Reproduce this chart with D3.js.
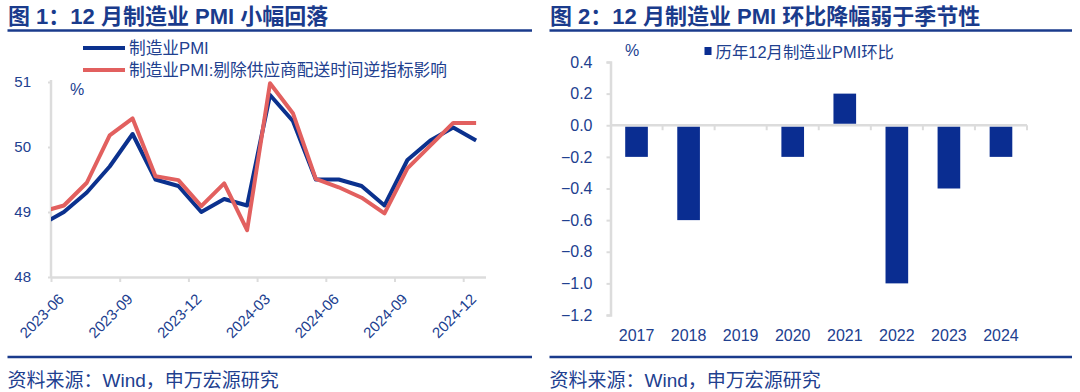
<!DOCTYPE html>
<html>
<head>
<meta charset="utf-8">
<script src="https://cdn.jsdelivr.net/npm/d3@7"></script>
<style>
  body { margin: 0; background: #fff; }
  svg text { font-family: "Liberation Sans", "Noto Sans CJK SC", sans-serif; }
</style>
</head>
<body>
<div id="wrapper"></div>
<script>

// 1. Data
const months = ["2023-05","2023-06","2023-07","2023-08","2023-09","2023-10","2023-11","2023-12",
    "2024-01","2024-02","2024-03","2024-04","2024-05","2024-06","2024-07","2024-08","2024-09","2024-10","2024-11","2024-12"]
const pmi = [48.8,49.0,49.3,49.7,50.2,49.5,49.4,49.0,49.2,49.1,50.8,50.4,49.5,49.5,49.4,49.1,49.8,50.1,50.3,50.1]
const pmiAdj = [49.0,49.1,49.45,50.18,50.44,49.55,49.49,49.09,49.44,48.72,50.98,50.52,49.51,49.38,49.22,48.98,49.67,50.02,50.37,50.37]
const monthTicks = ["2023-06","2023-09","2023-12","2024-03","2024-06","2024-09","2024-12"]
const pmiTicks = [48, 49, 50, 51]
const lineLabels = ["制造业PMI", "制造业PMI:剔除供应商配送时间逆指标影响"]

const years = ["2017","2018","2019","2020","2021","2022","2023","2024"]
const decChange = [-0.2,-0.6,0,-0.2,0.2,-1.0,-0.4,-0.2]
const changeTicks = [0.4,0.2,0.0,-0.2,-0.4,-0.6,-0.8,-1.0,-1.2]
const barLabel = "历年12月制造业PMI环比"

const titles = ["图 1：12 月制造业 PMI 小幅回落", "图 2：12 月制造业 PMI 环比降幅弱于季节性"]
const source = "资料来源：Wind，申万宏源研究"

// 2. Styles
const navy = "#1a3b8c"
const textColor = "#21408f"
const gridColor = "#dcdcdc"
const blue = "#0b318e"
const red = "#e2605f"
const barColor = "#0a2d91"

const svg = d3.select("#wrapper").append("svg")
    .attr("width", 1080)
    .attr("height", 392)

// title + frame lines for both panels
const panels = [{x0: 7.5, x1: 532}, {x0: 549.5, x1: 1072}]
panels.forEach((p, i) => {
    svg.append("text")
        .attr("x", p.x0 + 0.5)
        .attr("y", 23.5)
        .attr("fill", navy)
        .style("font-size", "22px")
        .style("font-weight", "bold")
        .text(titles[i])
    svg.append("line")
        .attr("x1", p.x0).attr("x2", p.x1)
        .attr("y1", 30.5).attr("y2", 30.5)
        .attr("stroke", navy).attr("stroke-width", 2.5)
    svg.append("line")
        .attr("x1", p.x0).attr("x2", p.x1)
        .attr("y1", 357).attr("y2", 357)
        .attr("stroke", navy).attr("stroke-width", 2.5)
    svg.append("text")
        .attr("x", p.x0)
        .attr("y", 387)
        .attr("fill", textColor)
        .style("font-size", "19px")
        .text(source)
})

// 3. Left chart: line chart
const xLine = d3.scaleLinear()
    .domain([0.437, 19.41])
    .range([51, 485.5])
const yLine = d3.scaleLinear()
    .domain([48, 51])
    .range([277, 82])
// tick labels sit about half a month before the month's data point
const tickPos = m => months.indexOf(m) - 0.563

const left = svg.append("g")

left.append("clipPath").attr("id", "clipLeft")
    .append("rect")
    .attr("x", xLine.range()[0]).attr("y", 0)
    .attr("width", xLine.range()[1] - xLine.range()[0]).attr("height", 392)

const yAxisL = left.append("g")
    .attr("transform", `translate(${xLine.range()[0]},0)`)
    .call(d3.axisLeft(yLine).tickValues(pmiTicks).tickSize(3).tickPadding(17).tickFormat(d3.format("d")))
const xAxisL = left.append("g")
    .attr("transform", `translate(0,${yLine(48)})`)
    .call(d3.axisBottom(xLine).tickValues(monthTicks.map(tickPos)).tickSize(5).tickSizeOuter(0).tickFormat(""))

;[yAxisL, xAxisL].forEach(a => {
    a.select(".domain").attr("stroke", gridColor).attr("stroke-width", 2.5)
    a.selectAll(".tick line").attr("stroke", gridColor).attr("stroke-width", 2)
})
yAxisL.selectAll(".tick text").attr("fill", textColor).style("font-size", "15px")
yAxisL.select(".domain").attr("d", `M0,${yLine(51) - 2}V${yLine(48)}`)

left.selectAll(".xlab")
    .data(monthTicks)
    .join("text")
    .attr("class", "xlab")
    .attr("transform", d => `translate(${xLine(tickPos(d)) + 14},300) rotate(-45)`)
    .attr("text-anchor", "end")
    .attr("fill", textColor)
    .style("font-size", "15px")
    .text(d => d)

left.append("text")
    .attr("x", 70).attr("y", 95)
    .attr("fill", textColor)
    .style("font-size", "16px")
    .text("%")

const line = d3.line()
    .x((d, i) => xLine(i))
    .y(d => yLine(d))

const series = [pmi, pmiAdj]
const colors = [blue, red]

left.append("g")
    .attr("clip-path", "url(#clipLeft)")
    .selectAll("path")
    .data(series)
    .join("path")
    .attr("d", d => line(d))
    .attr("fill", "none")
    .attr("stroke", (d, i) => colors[i])
    .attr("stroke-width", 4)
    .attr("stroke-linejoin", "round")

// legend
const legendL = left.append("g")
legendL.selectAll("line")
    .data(lineLabels)
    .join("line")
    .attr("x1", 83).attr("x2", 125)
    .attr("y1", (d, i) => 48 + i * 22).attr("y2", (d, i) => 48 + i * 22)
    .attr("stroke", (d, i) => colors[i])
    .attr("stroke-width", 4)
legendL.selectAll("text")
    .data(lineLabels)
    .join("text")
    .attr("x", 129)
    .attr("y", (d, i) => 54 + i * 22)
    .attr("fill", textColor)
    .style("font-size", "16.7px")
    .text(d => d)

// 4. Right chart: bar chart
const xBar = d3.scaleBand()
    .domain(years)
    .range([610.5, 1027])
    .paddingInner(0.565)
    .paddingOuter(0.2825)
const yBar = d3.scaleLinear()
    .domain([-1.2, 0.4])
    .range([315, 62])

const right = svg.append("g")

const yAxisR = right.append("g")
    .attr("transform", `translate(${xBar.range()[0]},0)`)
    .call(d3.axisLeft(yBar).tickValues(changeTicks).tickSize(4).tickPadding(14).tickFormat(d3.format(".1f")))
yAxisR.select(".domain").attr("stroke", gridColor).attr("stroke-width", 2.5)
yAxisR.selectAll(".tick line").attr("stroke", gridColor).attr("stroke-width", 2)
yAxisR.selectAll(".tick text").attr("fill", textColor).style("font-size", "16px")

// zero line with ticks at category boundaries
const step = xBar.step()
const bounds = d3.range(years.length + 1).map(i => xBar.range()[0] + i * step)
right.append("line")
    .attr("x1", xBar.range()[0]).attr("x2", xBar.range()[1])
    .attr("y1", yBar(0)).attr("y2", yBar(0))
    .attr("stroke", gridColor).attr("stroke-width", 2.5)
right.selectAll(".bnd")
    .data(bounds.slice(1))
    .join("line")
    .attr("class", "bnd")
    .attr("x1", d => d).attr("x2", d => d)
    .attr("y1", yBar(0)).attr("y2", yBar(0) + 5)
    .attr("stroke", gridColor).attr("stroke-width", 2)

right.selectAll("rect.bar")
    .data(years.map((y, i) => ({year: y, value: decChange[i]})).filter(d => d.value !== 0))
    .join("rect")
    .attr("class", "bar")
    .attr("x", d => xBar(d.year))
    .attr("width", xBar.bandwidth())
    .attr("y", d => d.value > 0 ? yBar(d.value) : yBar(0) + 1.5)
    .attr("height", d => d.value > 0 ? yBar(0) - 1.5 - yBar(d.value) : yBar(d.value) - yBar(0) - 1.5)
    .attr("fill", barColor)

right.selectAll(".yearlab")
    .data(years)
    .join("text")
    .attr("class", "yearlab")
    .attr("x", d => xBar(d) + xBar.bandwidth() / 2)
    .attr("y", 341)
    .attr("text-anchor", "middle")
    .attr("fill", textColor)
    .style("font-size", "16px")
    .text(d => d)

right.append("text")
    .attr("x", 625).attr("y", 56)
    .attr("fill", textColor)
    .style("font-size", "16px")
    .text("%")

right.append("rect")
    .attr("x", 704.5).attr("y", 47)
    .attr("width", 7).attr("height", 8)
    .attr("fill", barColor)
right.append("text")
    .attr("x", 715.5).attr("y", 57.5)
    .attr("fill", textColor)
    .style("font-size", "16.4px")
    .text(barLabel)

</script>
</body>
</html>
